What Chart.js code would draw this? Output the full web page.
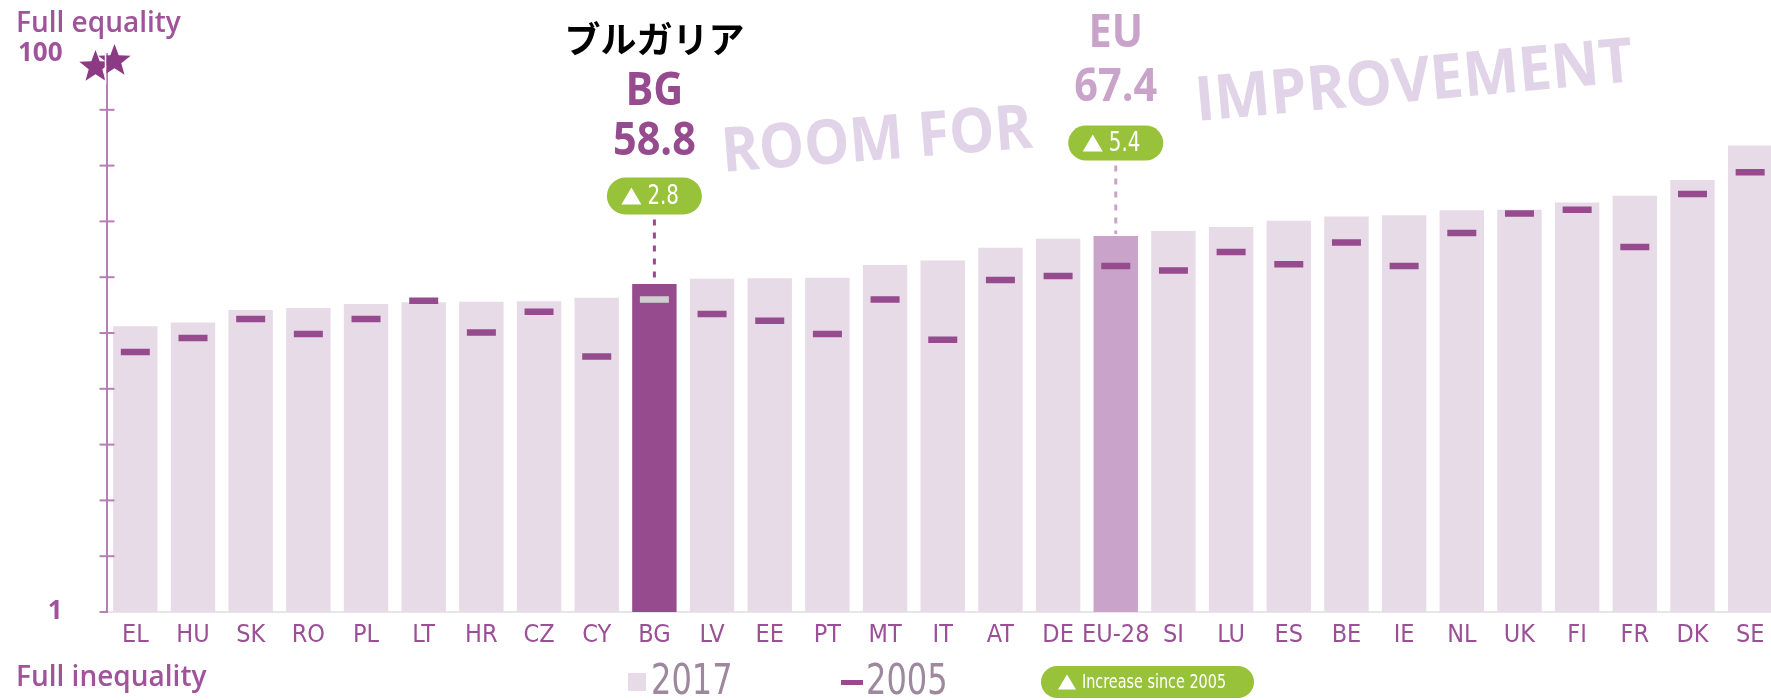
<!DOCTYPE html>
<html>
<head>
<meta charset="utf-8">
<script src="https://cdn.jsdelivr.net/npm/chart.js@4.4.1/dist/chart.umd.min.js"></script>
<style>
  html, body { margin: 0; padding: 0; background: #fff; overflow: hidden; }
</style>
</head>
<body>
<canvas id="grafico" width="1800" height="700"></canvas>
<script>
const paises = [
  "EL", "HU", "SK", "RO", "PL", "LT", "HR", "CZ", "CY", "BG",
  "LV", "EE", "PT", "MT", "IT", "AT", "DE", "EU-28", "SI", "LU",
  "ES", "BE", "IE", "NL", "UK", "FI", "FR", "DK", "SE"
];
const indice2017 = [
  51.2, 51.9, 54.1, 54.5, 55.2, 55.5, 55.6, 55.7, 56.3, 58.8,
  59.7, 59.8, 59.9, 62.2, 63.0, 65.3, 66.9, 67.4, 68.3, 69.0,
  70.1, 70.9, 71.1, 72.0, 72.1, 73.4, 74.6, 77.4, 83.6
];
const indice2005 = [
  46.6, 49.1, 52.5, 49.8, 52.5, 55.8, 50.1, 53.8, 45.8, 56.0,
  53.4, 52.2, 49.8, 56.0, 48.8, 59.5, 60.2, 62.0, 61.2, 64.5,
  62.3, 66.2, 62.0, 67.9, 71.4, 72.1, 65.4, 74.9, 78.8
];
const valoresY = [0, 100];
const rotulosY = ["1", "100"];
const destaques = ["BG", "EU-28"];
const destaqueNomes = ["BG", "EU"];

const roxo = "#954b8d";
const lilas = "#c9a3c9";
const rosaClaro = "#e8dbe8";
const verde = "#97c23a";
const estreita = "'Liberation Sans Narrow', 'DejaVu Sans Condensed', sans-serif";
const sans = "'Open Sans', sans-serif";

const coresBarras = paises.map(p => p === "BG" ? roxo : p === "EU-28" ? lilas : rosaClaro);
const coresMarcas = paises.map(p => p === "BG" ? "#cfcfcf" : roxo);

// texto com compressao horizontal opcional (fonte condensada)
function texto(ctx, t, x, y, font, cor, align, sx) {
  sx = sx || 1;
  ctx.save();
  ctx.font = font;
  ctx.fillStyle = cor;
  ctx.textAlign = align || "left";
  ctx.textBaseline = "middle";
  ctx.translate(x, y);
  ctx.scale(sx, 1);
  ctx.fillText(t, 0, 0);
  ctx.restore();
}

function pilula(ctx, x, y, w, h) {
  const r = h / 2;
  ctx.beginPath();
  ctx.moveTo(x + r, y);
  ctx.lineTo(x + w - r, y);
  ctx.arc(x + w - r, y + r, r, -Math.PI / 2, Math.PI / 2);
  ctx.lineTo(x + r, y + h);
  ctx.arc(x + r, y + r, r, Math.PI / 2, Math.PI * 1.5);
  ctx.closePath();
  ctx.fillStyle = verde;
  ctx.fill();
}

function triangulo(ctx, x, y, w, h) {
  ctx.beginPath();
  ctx.moveTo(x, y + h / 2);
  ctx.lineTo(x + w / 2, y - h / 2);
  ctx.lineTo(x + w, y + h / 2);
  ctx.closePath();
  ctx.fillStyle = "#fff";
  ctx.fill();
}

function estrela(ctx, cx, cy, r) {
  ctx.beginPath();
  for (let k = 0; k < 10; k++) {
    const raio = k % 2 === 0 ? r : r * 0.42;
    const a = -Math.PI / 2 + k * Math.PI / 5;
    ctx.lineTo(cx + raio * Math.cos(a), cy + raio * Math.sin(a));
  }
  ctx.closePath();
  ctx.fill();
}

const decoracao = {
  id: "decoracao",
  beforeDatasetsDraw(chart) {
    const ctx = chart.ctx;
    ctx.save();
    ctx.fillStyle = "#e2d4e8";
    ctx.font = "700 62px " + sans;
    ctx.textBaseline = "alphabetic";
    ctx.textAlign = "left";
    ctx.translate(723, 172);
    ctx.rotate(-4.5 * Math.PI / 180);
    ctx.scale(0.92, 1);
    ctx.fillText("ROOM FOR", 0, 0);
    ctx.restore();
    ctx.save();
    ctx.fillStyle = "#e2d4e8";
    ctx.font = "700 62px " + sans;
    ctx.textBaseline = "alphabetic";
    ctx.translate(1197, 121);
    ctx.rotate(-5.2 * Math.PI / 180);
    ctx.scale(0.95, 1);
    ctx.fillText("IMPROVEMENT", 0, 0);
    ctx.restore();
  },
  afterDraw(chart) {
    const ctx = chart.ctx;
    const xs = chart.scales.x;
    const ys = chart.scales.y;
    const eixo = ys.right;
    const topoEixo = chart.chartArea.top;
    ctx.save();

    // marcas do eixo y, cruzando a linha
    ctx.strokeStyle = "#b57eb5";
    ctx.lineWidth = 2;
    ys.ticks.forEach(t => {
      if (t.value === 100) return;
      const y = ys.getPixelForValue(t.value);
      ctx.beginPath();
      ctx.moveTo(eixo - 7, y);
      ctx.lineTo(t.value === 0 ? eixo : eixo + 8, y);
      ctx.stroke();
    });

    // estrelas no topo do eixo
    ctx.fillStyle = "#8d3a84";
    estrela(ctx, eixo - 11, topoEixo + 13, 17);
    estrela(ctx, eixo + 8, topoEixo + 7, 17);
    ctx.strokeStyle = "#fff";
    ctx.lineWidth = 1.5;
    ctx.beginPath();
    ctx.moveTo(eixo - 1, topoEixo - 10);
    ctx.lineTo(eixo - 1, topoEixo + 30);
    ctx.stroke();

    texto(ctx, "Full equality", 16, 24, "600 28px " + sans, "#a0539a");
    texto(ctx, "Full inequality", 16, 678, "600 28px " + sans, "#a0539a");

    // destaques BG e EU
    const pos = {
      "BG": { nome: 39, cod: 92, val: 142, pil: 196, ph: 37, cor: roxo },
      "EU-28": { cod: 34, val: 88, pil: 143, ph: 35, cor: lilas }
    };
    destaques.forEach((cod, k) => {
      const i = paises.indexOf(cod);
      const x = xs.getPixelForValue(i);
      const topo = ys.getPixelForValue(indice2017[i]);
      const p = pos[cod];
      if (cod === "BG") {
        texto(ctx, "ブルガリア", x, p.nome, "700 36px 'Noto Sans CJK JP', sans-serif", "#000", "center");
      }
      texto(ctx, destaqueNomes[k], x, p.cod, "700 46px " + sans, p.cor, "center", 0.9);
      texto(ctx, indice2017[i].toFixed(1), x, p.val, "700 46px " + sans, p.cor, "center", 0.9);
      const w = 95;
      pilula(ctx, x - w / 2, p.pil - p.ph / 2, w, p.ph);
      triangulo(ctx, x - 33, p.pil, 20, 17);
      texto(ctx, (indice2017[i] - indice2005[i]).toFixed(1), x - 7, p.pil + 1, "26px " + estreita, "#fff", "left", 0.85);
      ctx.strokeStyle = p.cor;
      ctx.lineWidth = 3;
      ctx.setLineDash([6, 7]);
      ctx.beginPath();
      ctx.moveTo(x, p.pil + p.ph / 2 + 5);
      ctx.lineTo(x, topo - 2);
      ctx.stroke();
      ctx.setLineDash([]);
    });

    // legenda
    ctx.fillStyle = rosaClaro;
    ctx.fillRect(628, 673, 18, 18);
    texto(ctx, "2017", 651, 683, "42px " + estreita, "#9d889d", "left", 0.85);
    ctx.fillStyle = roxo;
    ctx.fillRect(841, 680, 22, 5);
    texto(ctx, "2005", 866, 683, "42px " + estreita, "#9d889d", "left", 0.85);
    pilula(ctx, 1041, 666, 213, 32);
    triangulo(ctx, 1058, 682, 18, 15);
    texto(ctx, "Increase since 2005", 1082, 683, "20px " + estreita, "#fff", "left", 0.8);

    ctx.restore();
  }
};

Chart.defaults.font.family = sans;

new Chart(document.getElementById("grafico"), {
  data: {
    labels: paises,
    datasets: [
      {
        type: "line",
        label: "2005",
        data: indice2005,
        showLine: false,
        pointStyle: "line",
        pointRadius: 14.5,
        pointHoverRadius: 14.5,
        pointBorderWidth: 6.5,
        pointHoverBorderWidth: 6.5,
        pointBorderColor: coresMarcas,
        order: 0
      },
      {
        type: "bar",
        label: "2017",
        data: indice2017,
        backgroundColor: coresBarras,
        barPercentage: 0.77,
        categoryPercentage: 1,
        order: 1
      }
    ]
  },
  options: {
    responsive: false,
    animation: false,
    layout: { padding: { left: 17, top: 54, right: 2, bottom: 54 } },
    plugins: {
      legend: { display: false },
      tooltip: { enabled: false }
    },
    scales: {
      x: {
        grid: { display: false, drawTicks: false },
        border: { display: true, color: "#e6e6e6", width: 2 },
        ticks: {
          font: { family: estreita, size: 25 },
          color: "#9b4f96",
          padding: 8,
          maxRotation: 0,
          autoSkip: false
        },
        afterFit: s => {
          s.height = 34;
          s.paddingLeft = 0;
          s.paddingRight = 0;
        }
      },
      y: {
        min: 0,
        max: 100,
        grid: { display: false, drawTicks: false },
        border: { display: true, color: "#b57eb5", width: 2 },
        ticks: {
          stepSize: 10,
          padding: 44,
          color: "#a0539a",
          font: { size: 26, weight: "700" },
          callback: v => {
            const k = valoresY.indexOf(v);
            return k >= 0 ? rotulosY[k] : "";
          }
        },
        afterFit: s => {
          s.width = 89.5;
          s.paddingTop = 0;
          s.paddingBottom = 0;
        }
      }
    }
  },
  plugins: [decoracao]
});
</script>
</body>
</html>
